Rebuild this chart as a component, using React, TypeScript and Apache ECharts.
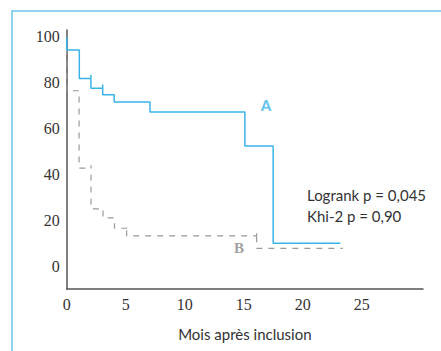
import React, { useEffect, useRef } from "react";
import * as echarts from "echarts";

const curveA: [number, number][] = [
  [0, 100], [0, 94.3], [1.07, 94.3], [1.07, 81.8], [2.05, 81.8], [2.05, 83.5], [2.05, 77.6],
  [3.05, 77.6], [3.05, 79.2], [3.05, 74.7], [4.03, 74.7], [4.03, 71.6], [7.06, 71.6], [7.06, 67.2],
  [15.1, 67.2], [15.1, 52.4], [17.5, 52.4], [17.5, 10], [23.2, 10],
];
const curveB: [number, number][] = [
  [0, 100], [0, 76.5], [1.05, 76.5], [1.05, 42.7], [2.06, 42.7], [2.06, 44], [2.06, 25],
  [3.08, 25], [3.08, 21], [4.05, 21], [4.05, 16.5], [5.08, 16.5], [5.08, 17.5], [5.08, 13.2],
  [16.1, 13.2], [16.1, 15], [16.1, 7.7], [23.4, 7.7],
];
const labelA: [number, number] = [16.9, 70.3];
const labelB: [number, number] = [14.6, 7.7];
const statsLines = ["Logrank p = 0,045", "Khi-2 p = 0,90"];
const xName = "Mois après inclusion";

export default function App() {
  const ref = useRef<HTMLDivElement>(null);
  useEffect(() => {
    const chart = echarts.init(ref.current!, null, { renderer: "svg" });
    const blue = "#3ab4e8";
    const grey = "#999999";
    chart.setOption({
      animation: false,
      backgroundColor: "#ffffff",
      grid: { left: 66.7, right: 18, top: 30, bottom: 62 },
      xAxis: {
        type: "value",
        min: 0,
        max: 30.2,
        interval: 5,
        name: xName,
        nameLocation: "middle",
        nameGap: 37,
        nameTextStyle: { fontFamily: "Lato", fontSize: 15, color: "#333" },
        axisLine: { onZero: false, lineStyle: { color: "#555", width: 1.5 } },
        axisTick: { show: false },
        splitLine: { show: false },
        axisLabel: {
          margin: 7,
          fontFamily: "Liberation Serif",
          fontSize: 16,
          color: "#333",
          formatter: (v: number) => (v <= 25 ? String(v) : ""),
        },
      },
      yAxis: {
        type: "value",
        min: -10,
        max: 103,
        interval: 10,
        axisLine: { show: true, lineStyle: { color: "#555", width: 1.5 } },
        axisTick: { show: false },
        splitLine: { show: false },
        axisLabel: {
          margin: 7,
          fontFamily: "Liberation Serif",
          fontSize: 16,
          color: "#333",
          formatter: (v: number) => (v >= 0 && v <= 100 && v % 20 === 0 ? String(v) : ""),
        },
      },
      series: [
        {
          type: "line",
          data: curveB,
          symbol: "none",
          lineStyle: { color: grey, width: 1.2, type: [6, 6] },
        },
        {
          type: "line",
          data: curveA,
          symbol: "none",
          lineStyle: { color: blue, width: 1.5 },
        },
        {
          type: "scatter",
          symbolSize: 0,
          data: [labelA],
          label: {
            show: true,
            position: "inside",
            formatter: "A",
            color: blue,
            fontWeight: 900,
            fontFamily: "Lato",
            fontSize: 15,
          },
        },
        {
          type: "scatter",
          symbolSize: 0,
          data: [labelB],
          label: {
            show: true,
            position: "inside",
            formatter: "B",
            color: "#888",
            fontWeight: "bold",
            fontFamily: "Liberation Serif",
            fontSize: 15,
          },
        },
      ],
      graphic: [
        {
          type: "rect",
          shape: { x: 12, y: 11, width: 500, height: 400 },
          style: { fill: "none", stroke: "#6cc6ec", lineWidth: 1.5 },
          silent: true,
        },
        {
          type: "text",
          left: 307,
          top: 184,
          style: {
            text: statsLines.join("\n"),
            fontFamily: "Lato",
            fontSize: 15,
            lineHeight: 21,
            fill: "#333",
          },
        },
      ],
    });
    return () => chart.dispose();
  }, []);
  return (
    <div
      ref={ref}
      style={{ position: "fixed", left: 0, top: 0, width: 441, height: 351 }}
    />
  );
}
